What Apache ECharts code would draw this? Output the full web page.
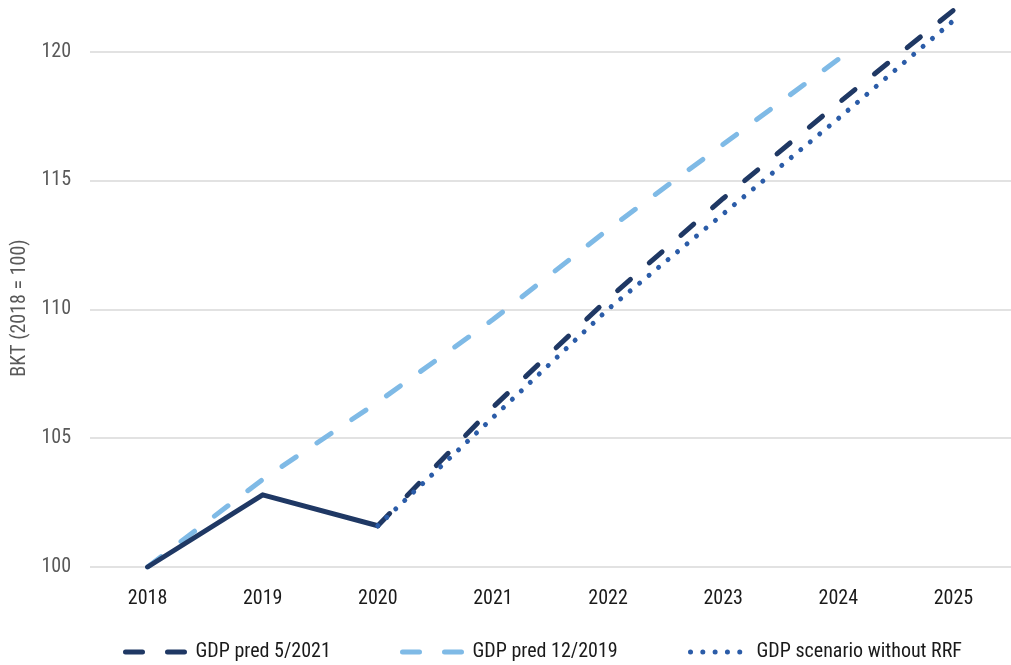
<!DOCTYPE html>
<html>
<head>
<meta charset="utf-8">
<script src="https://cdn.jsdelivr.net/npm/echarts@6/dist/echarts.min.js"></script>
<style>
  html, body { margin: 0; padding: 0; background: #ffffff; }
  #chart { width: 1011px; height: 665px; }
</style>
</head>
<body>
<div id="chart"></div>
<script>
// Years on the horizontal axis
const years = ['2018', '2019', '2020', '2021', '2022', '2023', '2024', '2025'];

// Real GDP index, 2018 = 100
const actual      = [100, 102.8, 101.6, null, null, null, null, null];
const predMay2021 = [null, null, 101.6, 106.2, 110.4, 114.3, 118.0, 121.6];
const predDec2019 = [100, 103.4, 106.4, 109.6, 113.1, 116.4, 119.7, null];
const noRRF       = [null, null, 101.6, 105.8, 110.0, 113.7, 117.4, 121.2];

// Value axis settings and tick labels
const yMin = 100, yMax = 122, yStep = 5;
const yTicks = [100, 105, 110, 115, 120];

const seriesNames = ['GDP pred 5/2021', 'GDP pred 12/2019', 'GDP scenario without RRF'];

const FONT = '"Roboto Condensed", "Open Sans", sans-serif';
const NAVY = '#1f3864';
const LIGHT = '#7fbae6';
const MID = '#2b5ca8';
const GRID = '#d9d9d9';

// One legend block per series so each entry sits at its own spot along the bottom
function legendBlock(name, left, width) {
  return {
    data: [name],
    left: left,
    top: 637,
    itemWidth: width,
    itemHeight: 8,
    itemStyle: { opacity: 0 },
    lineStyle: { width: 5 },
    textStyle: { color: '#1a1a1a', fontFamily: FONT, fontSize: 20, padding: [0, 0, 0, 5] }
  };
}

const chart = echarts.init(document.getElementById('chart'), null, { renderer: 'canvas' });

chart.setOption({
  animation: false,
  backgroundColor: '#ffffff',
  grid: { left: 90, right: -8, top: 0, bottom: 98, containLabel: false },
  xAxis: {
    type: 'category',
    data: years,
    boundaryGap: true,
    axisLine: { show: false },
    axisTick: { show: false },
    axisLabel: { color: '#1a1a1a', fontFamily: FONT, fontSize: 20, margin: 22 }
  },
  yAxis: {
    type: 'value',
    min: yMin,
    max: yMax,
    interval: yStep,
    axisLine: { show: false },
    axisTick: { show: false },
    axisLabel: {
      color: '#595959', fontFamily: FONT, fontSize: 20, margin: 19,
      formatter: v => (yTicks.indexOf(v) >= 0 ? String(v) : '')
    },
    splitLine: {
      lineStyle: {
        width: 1.5,
        color: yTicks.map(() => GRID).concat(['rgba(0,0,0,0)'])
      }
    }
  },
  legend: [
    legendBlock(seriesNames[0], 118, 60),
    legendBlock(seriesNames[1], 395, 60),
    legendBlock(seriesNames[2], 683, 56)
  ],
  graphic: [{
    type: 'text',
    x: 20,
    y: 308,
    rotation: Math.PI / 2,
    style: {
      text: 'BKT (2018 = 100)',
      fill: '#595959',
      font: '20px ' + FONT,
      align: 'center',
      verticalAlign: 'middle'
    }
  }],
  series: [
    {
      name: 'actual',
      type: 'line',
      data: actual,
      symbol: 'none',
      z: 3,
      lineStyle: { color: NAVY, width: 5, cap: 'round', join: 'round' }
    },
    {
      name: seriesNames[1],
      type: 'line',
      data: predDec2019,
      symbol: 'none',
      z: 2,
      itemStyle: { color: LIGHT },
      lineStyle: { color: LIGHT, width: 5, type: [17, 25], cap: 'round' }
    },
    {
      name: seriesNames[0],
      type: 'line',
      data: predMay2021,
      symbol: 'none',
      z: 4,
      itemStyle: { color: NAVY },
      lineStyle: { color: NAVY, width: 5, type: [17, 25], cap: 'round' }
    },
    {
      name: seriesNames[2],
      type: 'line',
      data: noRRF,
      symbol: 'none',
      z: 5,
      itemStyle: { color: MID },
      lineStyle: { color: MID, width: 5, type: [0.01, 12.3], cap: 'round' }
    }
  ]
});
</script>
</body>
</html>
